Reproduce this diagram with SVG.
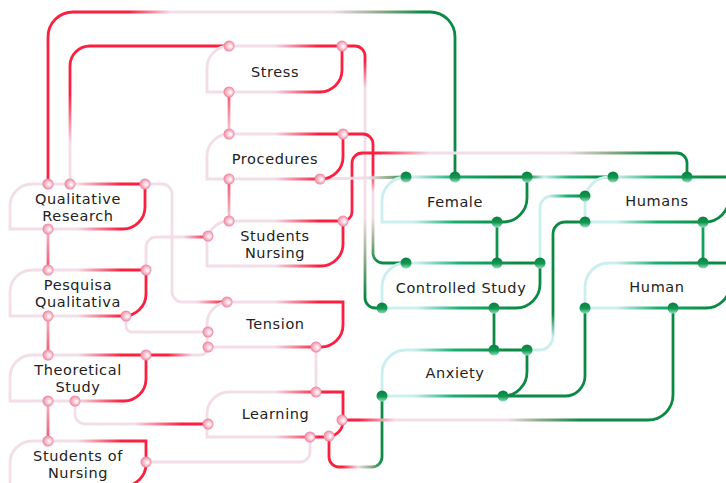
<svg xmlns="http://www.w3.org/2000/svg" width="726" height="483" viewBox="0 0 726 483">
<defs>
<style>
.n{fill:none;stroke-width:2.8}
.nr{stroke:url(#nr)}
.ng{stroke:url(#ng)}
.e{fill:none;stroke-width:2.8}
.rd{fill:url(#rdot)}
.gd{fill:url(#gdot)}
text{font-family:"DejaVu Sans","Liberation Sans",Arial,sans-serif;font-size:14.5px;fill:#222;text-anchor:middle;letter-spacing:0.6px}
</style>
<linearGradient id="nr" x1="0" y1="0" x2="1" y2="0"><stop offset="0" stop-color="#f2dde8"/><stop offset="0.5" stop-color="#f2dde8"/><stop offset="0.82" stop-color="#fb2040"/></linearGradient>
<linearGradient id="ng" x1="0" y1="0" x2="1" y2="0"><stop offset="0" stop-color="#cbeeee"/><stop offset="0.22" stop-color="#cbeeee"/><stop offset="0.5" stop-color="#18b070"/><stop offset="0.85" stop-color="#0c8a45"/></linearGradient>
<radialGradient id="rdot" cx="0.5" cy="0.5" r="0.5" fx="0.68" fy="0.55"><stop offset="0" stop-color="#ffffff"/><stop offset="0.45" stop-color="#f9d0dc"/><stop offset="1" stop-color="#f0809b"/></radialGradient>
<linearGradient id="gdot" x1="0" y1="0" x2="0" y2="1"><stop offset="0" stop-color="#0a7f40"/><stop offset="0.55" stop-color="#10984f"/><stop offset="1" stop-color="#9adcc4"/></linearGradient>
<linearGradient id="e1" gradientUnits="userSpaceOnUse" x1="48" y1="0" x2="455" y2="0"><stop offset="0" stop-color="#fb2040"/><stop offset="0.2" stop-color="#fb2040"/><stop offset="0.3" stop-color="#f2dde8"/><stop offset="0.7" stop-color="#f2dde8"/><stop offset="0.82" stop-color="#8aaa84"/><stop offset="0.92" stop-color="#0c8a45"/></linearGradient>
<linearGradient id="e2" gradientUnits="userSpaceOnUse" x1="0" y1="184" x2="0" y2="46"><stop offset="0" stop-color="#f2dde8"/><stop offset="0.3" stop-color="#f2dde8"/><stop offset="0.65" stop-color="#fb2040"/></linearGradient>
<linearGradient id="e3" gradientUnits="userSpaceOnUse" x1="172" y1="0" x2="227" y2="0"><stop offset="0" stop-color="#f2dde8"/><stop offset="0.45" stop-color="#f2dde8"/><stop offset="0.95" stop-color="#fb2040"/></linearGradient>
<linearGradient id="e4" gradientUnits="userSpaceOnUse" x1="0" y1="229" x2="0" y2="270"><stop offset="0" stop-color="#f4b8c6"/><stop offset="1" stop-color="#f6506c"/></linearGradient>
<linearGradient id="e5" gradientUnits="userSpaceOnUse" x1="146" y1="0" x2="208" y2="0"><stop offset="0" stop-color="#f2dde8"/><stop offset="0.6" stop-color="#f2dde8"/><stop offset="1" stop-color="#fb2040"/></linearGradient>
<linearGradient id="e6" gradientUnits="userSpaceOnUse" x1="0" y1="316" x2="0" y2="355"><stop offset="0" stop-color="#f4b8c6"/><stop offset="1" stop-color="#f6506c"/></linearGradient>
<linearGradient id="e8" gradientUnits="userSpaceOnUse" x1="146" y1="0" x2="208" y2="0"><stop offset="0" stop-color="#fb2040"/><stop offset="0.35" stop-color="#fb2040"/><stop offset="0.75" stop-color="#f2dde8"/></linearGradient>
<linearGradient id="e9" gradientUnits="userSpaceOnUse" x1="0" y1="401" x2="0" y2="441"><stop offset="0" stop-color="#f4b8c6"/><stop offset="1" stop-color="#f6506c"/></linearGradient>
<linearGradient id="e10" gradientUnits="userSpaceOnUse" x1="75" y1="0" x2="208" y2="0"><stop offset="0" stop-color="#f2dde8"/><stop offset="0.45" stop-color="#f2dde8"/><stop offset="0.8" stop-color="#fb2040"/></linearGradient>
<linearGradient id="e12" gradientUnits="userSpaceOnUse" x1="329" y1="0" x2="382" y2="0"><stop offset="0" stop-color="#fb2040"/><stop offset="0.25" stop-color="#fb2040"/><stop offset="0.55" stop-color="#f2dde8"/><stop offset="0.8" stop-color="#8aaa84"/><stop offset="1" stop-color="#0c8a45"/></linearGradient>
<linearGradient id="e13" gradientUnits="userSpaceOnUse" x1="342" y1="0" x2="673" y2="0"><stop offset="0" stop-color="#fb2040"/><stop offset="0.05" stop-color="#fb2040"/><stop offset="0.16" stop-color="#f2dde8"/><stop offset="0.5" stop-color="#f2dde8"/><stop offset="0.6" stop-color="#8aaa84"/><stop offset="0.72" stop-color="#0c8a45"/></linearGradient>
<linearGradient id="e15" gradientUnits="userSpaceOnUse" x1="0" y1="92" x2="0" y2="134"><stop offset="0" stop-color="#f6506c"/><stop offset="1" stop-color="#f2d0dc"/></linearGradient>
<linearGradient id="e16" gradientUnits="userSpaceOnUse" x1="0" y1="179" x2="0" y2="221"><stop offset="0" stop-color="#f6506c"/><stop offset="1" stop-color="#f2d0dc"/></linearGradient>
<linearGradient id="e17" gradientUnits="userSpaceOnUse" x1="0" y1="46" x2="0" y2="308"><stop offset="0" stop-color="#fb2040"/><stop offset="0.06" stop-color="#fb2040"/><stop offset="0.16" stop-color="#f2dde8"/><stop offset="0.66" stop-color="#f2dde8"/><stop offset="0.82" stop-color="#8aaa84"/><stop offset="0.95" stop-color="#0c8a45"/></linearGradient>
<linearGradient id="e18" gradientUnits="userSpaceOnUse" x1="0" y1="134" x2="0" y2="263"><stop offset="0" stop-color="#fb2040"/><stop offset="0.3" stop-color="#fb2040"/><stop offset="0.45" stop-color="#f2dde8"/><stop offset="0.65" stop-color="#f2dde8"/><stop offset="0.85" stop-color="#8aaa84"/><stop offset="1" stop-color="#0c8a45"/></linearGradient>
<linearGradient id="e19" gradientUnits="userSpaceOnUse" x1="343" y1="0" x2="687" y2="0"><stop offset="0" stop-color="#fb2040"/><stop offset="0.1" stop-color="#fb2040"/><stop offset="0.25" stop-color="#f2dde8"/><stop offset="0.65" stop-color="#f2dde8"/><stop offset="0.78" stop-color="#8aaa84"/><stop offset="0.9" stop-color="#0c8a45"/></linearGradient>
<linearGradient id="e20" gradientUnits="userSpaceOnUse" x1="320" y1="0" x2="406" y2="0"><stop offset="0" stop-color="#f2dde8"/><stop offset="0.55" stop-color="#f2dde8"/><stop offset="0.82" stop-color="#8aaa84"/><stop offset="1" stop-color="#0c8a45"/></linearGradient>
<linearGradient id="e23" gradientUnits="userSpaceOnUse" x1="527" y1="0" x2="613" y2="0"><stop offset="0" stop-color="#0c8a45"/><stop offset="0.2" stop-color="#cbeeee"/><stop offset="0.5" stop-color="#1ab070"/><stop offset="0.85" stop-color="#0c8a45"/></linearGradient>
<linearGradient id="e24" gradientUnits="userSpaceOnUse" x1="585" y1="0" x2="540" y2="0"><stop offset="0" stop-color="#0c8a45"/><stop offset="0.4" stop-color="#1ab070"/><stop offset="0.8" stop-color="#cbeeee"/></linearGradient>
<linearGradient id="e25" gradientUnits="userSpaceOnUse" x1="0" y1="222" x2="0" y2="350"><stop offset="0" stop-color="#0c8a45"/><stop offset="0.72" stop-color="#0c8a45"/><stop offset="0.9" stop-color="#cbeeee"/></linearGradient>
</defs>
<rect width="726" height="483" fill="#ffffff"/>
<g id="connectors">
<path class="e" stroke="url(#e1)" d="M48,184 V37 A25,25 0 0 1 73,12 H430 A25,25 0 0 1 455,37 V177"/>
<path class="e" stroke="url(#e2)" d="M70,184 V66 A20,20 0 0 1 90,46 H229"/>
<path class="e" stroke="url(#e3)" d="M145,184 H162 A10,10 0 0 1 172,194 V292 A10,10 0 0 0 182,302 H227"/>
<path class="e" stroke="url(#e4)" d="M48,229 V270"/>
<path class="e" stroke="url(#e5)" d="M146,270 V247 A10,10 0 0 1 156,237 H208"/>
<path class="e" stroke="url(#e6)" d="M48,316 V355"/>
<path class="e" stroke="#f2dde8" d="M126,316 V326 A6,6 0 0 0 132,332 H208"/>
<path class="e" stroke="url(#e8)" d="M146,355 H200 A8,8 0 0 0 208,347"/>
<path class="e" stroke="url(#e9)" d="M48,401 V441"/>
<path class="e" stroke="url(#e10)" d="M75,401 V414 A10,10 0 0 0 85,424 H208"/>
<path class="e" stroke="#f2dde8" d="M146,462 H300 A10,10 0 0 0 310,452 V437"/>
<path class="e" stroke="url(#e12)" d="M329,437 V457 A10,10 0 0 0 339,467 H372 A10,10 0 0 0 382,457 V396"/>
<path class="e" stroke="url(#e13)" d="M342,420 H648 A25,25 0 0 0 673,395 V308"/>
<path class="e" stroke="#f2dde8" d="M316,347 V392"/>
<path class="e" stroke="url(#e15)" d="M229,92 V134"/>
<path class="e" stroke="url(#e16)" d="M229,179 V221"/>
<path class="e" stroke="url(#e17)" d="M342,46 H355 A10,10 0 0 1 365,56 V298 A10,10 0 0 0 375,308 H382"/>
<path class="e" stroke="url(#e18)" d="M343,134 H363 A10,10 0 0 1 373,144 V253 A10,10 0 0 0 383,263 H406"/>
<path class="e" stroke="url(#e19)" d="M343,221 A9,9 0 0 0 352,212 V163 A10,10 0 0 1 362,153 H677 A10,10 0 0 1 687,163 V177"/>
<path class="e" stroke="url(#e20)" d="M320,179 L406,177"/>
<path class="e" stroke="#109550" d="M497,222 V263"/>
<path class="e" stroke="url(#e23)" d="M527,177 H613"/>
<path class="e" stroke="url(#e24)" d="M585,196 H552 A12,12 0 0 0 540,208 V263"/>
<path class="e" stroke="url(#e25)" d="M585,222 H565 A12,12 0 0 0 553,234 V336 A14,14 0 0 1 539,350 H527"/>
<path class="e" stroke="#12a05c" d="M703,222 V263"/>
<path class="e" stroke="#0c8a45" d="M494,308 V350"/>
<path class="e" stroke="#0c8a45" d="M585,308 V376 A20,20 0 0 1 565,396 H503"/>
</g>
<g id="qualitative-research">
<path class="n nr" d="M10,206 A22,22 0 0 1 32,184 H145 V207 A22,22 0 0 1 123,229 H10 Z"/>
<text x="78" y="203.5">Qualitative</text><text x="78" y="220.5">Research</text>
<circle class="rd" cx="48" cy="184" r="5.5"/><circle class="rd" cx="70" cy="184" r="5.5"/><circle class="rd" cx="145" cy="184" r="5.5"/><circle class="rd" cx="48" cy="229" r="5.5"/>
</g>
<g id="pesquisa-qualitativa">
<path class="n nr" d="M10,292 A22,22 0 0 1 32,270 H146 V294 A22,22 0 0 1 124,316 H10 Z"/>
<text x="78" y="290">Pesquisa</text><text x="78" y="307">Qualitativa</text>
<circle class="rd" cx="48" cy="270" r="5.5"/><circle class="rd" cx="146" cy="270" r="5.5"/><circle class="rd" cx="48" cy="316" r="5.5"/><circle class="rd" cx="126" cy="316" r="5.5"/>
</g>
<g id="theoretical-study">
<path class="n nr" d="M10,377 A22,22 0 0 1 32,355 H146 V379 A22,22 0 0 1 124,401 H10 Z"/>
<text x="78" y="375">Theoretical</text><text x="78" y="392">Study</text>
<circle class="rd" cx="48" cy="355" r="5.5"/><circle class="rd" cx="146" cy="355" r="5.5"/><circle class="rd" cx="48" cy="401" r="5.5"/><circle class="rd" cx="75" cy="401" r="5.5"/>
</g>
<g id="students-of-nursing">
<path class="n nr" d="M10,463 A22,22 0 0 1 32,441 H146 V464 A22,22 0 0 1 124,486 H10 Z"/>
<text x="78" y="460.5">Students of</text><text x="78" y="477.5">Nursing</text>
<circle class="rd" cx="48" cy="441" r="5.5"/><circle class="rd" cx="146" cy="462" r="5.5"/>
</g>
<g id="stress">
<path class="n nr" d="M207,68 A22,22 0 0 1 229,46 H342 V70 A22,22 0 0 1 320,92 H207 Z"/>
<text x="275" y="76.5">Stress</text>
<circle class="rd" cx="229" cy="46" r="5.5"/><circle class="rd" cx="342" cy="46" r="5.5"/><circle class="rd" cx="229" cy="92" r="5.5"/>
</g>
<g id="procedures">
<path class="n nr" d="M207,156 A22,22 0 0 1 229,134 H343 V157 A22,22 0 0 1 321,179 H207 Z"/>
<text x="275" y="163.5">Procedures</text>
<circle class="rd" cx="229" cy="134" r="5.5"/><circle class="rd" cx="343" cy="134" r="5.5"/><circle class="rd" cx="229" cy="179" r="5.5"/><circle class="rd" cx="320" cy="179" r="5.5"/>
</g>
<g id="students-nursing">
<path class="n nr" d="M207,243 A22,22 0 0 1 229,221 H343 V244 A22,22 0 0 1 321,266 H207 Z"/>
<text x="275" y="240.5">Students</text><text x="275" y="257.5">Nursing</text>
<circle class="rd" cx="229" cy="221" r="5.5"/><circle class="rd" cx="343" cy="221" r="5.5"/><circle class="rd" cx="208" cy="236" r="5.5"/>
</g>
<g id="tension">
<path class="n nr" d="M207,324 A22,22 0 0 1 229,302 H343 V325 A22,22 0 0 1 321,347 H207 Z"/>
<text x="275.5" y="328.5">Tension</text>
<circle class="rd" cx="227" cy="302" r="5.5"/><circle class="rd" cx="208" cy="332" r="5.5"/><circle class="rd" cx="208" cy="347" r="5.5"/><circle class="rd" cx="316" cy="347" r="5.5"/>
</g>
<g id="learning">
<path class="n nr" d="M207,414 A22,22 0 0 1 229,392 H343 V421 A16,16 0 0 1 327,437 H207 Z"/>
<text x="275.5" y="419">Learning</text>
<circle class="rd" cx="316" cy="392" r="5.5"/><circle class="rd" cx="342" cy="420" r="5.5"/><circle class="rd" cx="208" cy="424" r="5.5"/><circle class="rd" cx="310" cy="437" r="5.5"/><circle class="rd" cx="329" cy="436" r="5.5"/>
</g>
<g id="female">
<path class="n ng" d="M382,201 A24,24 0 0 1 406,177 H527 V198 A24,24 0 0 1 503,222 H382 Z"/>
<text x="455" y="206.5">Female</text>
<circle class="gd" cx="406" cy="177" r="5.5"/><circle class="gd" cx="455" cy="177" r="5.5"/><circle class="gd" cx="527" cy="177" r="5.5"/><circle class="gd" cx="497" cy="222" r="5.5"/>
</g>
<g id="controlled-study">
<path class="n ng" d="M382,287 A24,24 0 0 1 406,263 H540 V284 A24,24 0 0 1 516,308 H382 Z"/>
<text x="461" y="292.5">Controlled Study</text>
<circle class="gd" cx="406" cy="263" r="5.5"/><circle class="gd" cx="497" cy="263" r="5.5"/><circle class="gd" cx="540" cy="263" r="5.5"/><circle class="gd" cx="382" cy="308" r="5.5"/><circle class="gd" cx="494" cy="308" r="5.5"/>
</g>
<g id="anxiety">
<path class="n ng" d="M382,374 A24,24 0 0 1 406,350 H527 V372 A24,24 0 0 1 503,396 H382 Z"/>
<text x="455" y="378">Anxiety</text>
<circle class="gd" cx="494" cy="350" r="5.5"/><circle class="gd" cx="527" cy="350" r="5.5"/><circle class="gd" cx="382" cy="396" r="5.5"/><circle class="gd" cx="503" cy="396" r="5.5"/>
</g>
<g id="humans">
<path class="n ng" d="M585,201 A24,24 0 0 1 609,177 H729 V198 A24,24 0 0 1 705,222 H585 Z"/>
<text x="657" y="205.5">Humans</text>
<circle class="gd" cx="613" cy="177" r="5.5"/><circle class="gd" cx="687" cy="177" r="5.5"/><circle class="gd" cx="585" cy="196" r="5.5"/><circle class="gd" cx="585" cy="222" r="5.5"/><circle class="gd" cx="703" cy="222" r="5.5"/>
</g>
<g id="human">
<path class="n ng" d="M585,287 A24,24 0 0 1 609,263 H730 V284 A24,24 0 0 1 706,308 H585 Z"/>
<text x="657" y="291.5">Human</text>
<circle class="gd" cx="703" cy="263" r="5.5"/><circle class="gd" cx="585" cy="308" r="5.5"/><circle class="gd" cx="673" cy="308" r="5.5"/>
</g>
</svg>
